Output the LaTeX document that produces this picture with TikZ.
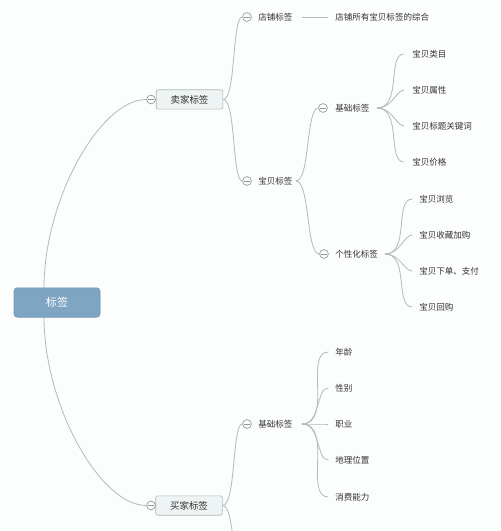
\documentclass[tikz,border=0pt]{standalone}
\usepackage{fontspec}
\newfontfamily\cjk{Noto Sans CJK SC}
\usetikzlibrary{backgrounds}
\definecolor{linec}{HTML}{AEBCBC}
\definecolor{togc}{HTML}{8E9999}
\definecolor{boxfill}{HTML}{EEF3F3}
\definecolor{boxdraw}{HTML}{AEBABA}
\definecolor{rootfill}{HTML}{7EA5C1}
\definecolor{rootdraw}{HTML}{6F96B2}
\definecolor{textc}{HTML}{333333}
\definecolor{bgc}{HTML}{FCFDFD}
\begin{document}
\begin{tikzpicture}[x=0.75pt,y=-0.75pt,
  link/.style={draw=linec, line width=0.6pt},
  lbl/.style={anchor=west, inner sep=0pt, text=textc, font=\cjk\fontsize{6.4}{7}\selectfont},
  tog/.style={circle, draw=togc, fill=white, line width=0.5pt, minimum size=6.6pt, inner sep=0pt,
    path picture={\draw[togc, line width=0.5pt] ([xshift=-1.9pt]path picture bounding box.center) -- ([xshift=1.9pt]path picture bounding box.center);}},
  catbox/.style={draw=boxdraw, fill=boxfill, line width=0.5pt, rounded corners=1.5pt, minimum width=50pt, minimum height=14.5pt, inner sep=0pt, text=textc, font=\cjk\fontsize{7.1}{8}\selectfont},
  rootbox/.style={draw=rootdraw, fill=rootfill, line width=0.5pt, rounded corners=2.5pt, minimum width=64.5pt, minimum height=22pt, inner sep=0pt, text=white, font=\cjk\fontsize{8.3}{9}\selectfont},
  fan/.style={link, out=0, in=180}
]
\useasboundingbox (0,0) rectangle (500,531);

% root
\node[rootbox] (root) at (57,302.5) {标签};
\coordinate (rtop) at (44,288);
\coordinate (rbot) at (44,317);

% seller
\node[catbox] (seller) at (189.5,99.5) {卖家标签};
\node[tog] (tseller) at (151,99.5) {};
\node[tog] (tshop) at (247,17) {};
\node[lbl] (shop) at (258,17) {店铺标签};
\node[lbl] (shopdesc) at (335,17) {店铺所有宝贝标签的综合};
\node[tog] (tbb) at (247,181) {};
\node[lbl] (bb) at (258,181) {宝贝标签};
\node[tog] (tsb) at (323,108) {};
\node[lbl] (sb) at (335,108) {基础标签};
\coordinate (hsb) at (377,108);
\node[lbl] (l1) at (412,54) {宝贝类目};
\node[lbl] (l2) at (412,90) {宝贝属性};
\node[lbl] (l3) at (412,126) {宝贝标题关键词};
\node[lbl] (l4) at (412,162) {宝贝价格};
\node[tog] (tsp) at (324,254) {};
\node[lbl] (sp) at (335,254) {个性化标签};
\coordinate (hsp) at (385,254);
\node[lbl] (p1) at (419,199) {宝贝浏览};
\node[lbl] (p2) at (419,235) {宝贝收藏加购};
\node[lbl] (p3) at (419,271) {宝贝下单、支付};
\node[lbl] (p4) at (419,307) {宝贝回购};

% buyer
\node[catbox] (buyer) at (189,505.5) {买家标签};
\node[tog] (tbuyer) at (151,505.5) {};
\node[tog] (tbb2) at (247,424) {};
\node[lbl] (bb2) at (258,424) {基础标签};
\coordinate (hbb) at (302,424);
\node[lbl] (b1) at (335,352) {年龄};
\node[lbl] (b2) at (335,388) {性别};
\node[lbl] (b3) at (335,424) {职业};
\node[lbl] (b4) at (335,460) {地理位置};
\node[lbl] (b5) at (335,497) {消费能力};
\coordinate (bnext) at (247,590);

\begin{scope}[on background layer]
\fill[bgc] (0,0) rectangle (500,531);
\draw[link] (rtop) .. controls (44,200) and (100,99.5) .. (tseller.west);
\draw[link] (rbot) .. controls (44,405) and (100,505.5) .. (tbuyer.west);
\draw[link] (seller.east) .. controls (236,99.5) and (232,17) .. (tshop.west);
\draw[link] (seller.east) .. controls (236,99.5) and (232,181) .. (tbb.west);
\draw[link] ([xshift=7pt]shop.east) -- ([xshift=-5.5pt]shopdesc.west);
\draw[link] ([xshift=2.5pt]bb.east) .. controls (310,181) and (306,108) .. (tsb.west);
\draw[link] ([xshift=2.5pt]bb.east) .. controls (310,181) and (306,254) .. (tsp.west);
\foreach \n in {l1,l2,l3,l4}{\draw[fan, shorten >=6pt] (hsb) to (\n.west);}
\foreach \n in {p1,p2,p3,p4}{\draw[fan, shorten >=5pt] (hsp) to (\n.west);}
\draw[link] (buyer.east) .. controls (236,505.5) and (232,424) .. (tbb2.west);
\draw[link] (buyer.east) .. controls (236,505.5) and (232,590) .. (bnext);
\foreach \n in {b1,b2,b3,b4,b5}{\draw[fan, shorten >=5pt] (hbb) to (\n.west);}
\end{scope}
\end{tikzpicture}
\end{document}
